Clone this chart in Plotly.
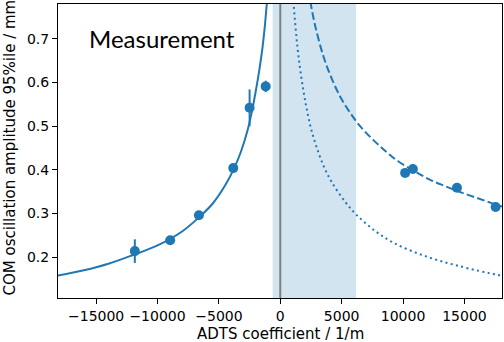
import plotly.graph_objects as go

# Measured points
meas_x = [-11850, -8970, -6630, -3830, -2500, -1190, 10170, 10800, 14390, 17540]
meas_y = [0.214, 0.239, 0.296, 0.404, 0.542, 0.591, 0.393, 0.402, 0.359, 0.315]
meas_err = [0.027, 0.008, 0.006, 0.009, 0.042, 0.013, 0.006, 0.006, 0.006, 0.006]

# Solid fit curve (negative side)
fit_neg_x = [-18300, -16000, -14000, -12000, -10000, -8000, -6600, -5500, -4500,
             -3800, -3200, -2700, -2300, -2000, -1700, -1450, -1250, -1100, -1000]
fit_neg_y = [0.157, 0.170, 0.185, 0.205, 0.227, 0.259, 0.292, 0.323, 0.364,
             0.401, 0.442, 0.487, 0.535, 0.580, 0.630, 0.680, 0.732, 0.780, 0.817]

# Dashed fit curve (positive side)
fit_pos_x = [2300, 2480, 2830, 3510, 4190, 4870, 5630, 6500, 7590, 8680, 9630,
             11000, 12210, 13500, 14660, 16000, 17100, 18200]
fit_pos_y = [0.81, 0.780, 0.731, 0.660, 0.609, 0.568, 0.533, 0.500, 0.468, 0.440, 0.419,
             0.396, 0.377, 0.362, 0.349, 0.336, 0.325, 0.315]

# Dotted curve (positive side)
dot_x = [1000, 1200, 1390, 1610, 1880, 2150, 2480, 2910, 3510, 4190, 5280, 6175,
         7590, 9220, 11660, 14390, 17650, 18200]
dot_y = [0.81, 0.740, 0.682, 0.632, 0.582, 0.540, 0.497, 0.456, 0.410, 0.372, 0.327, 0.298,
         0.263, 0.233, 0.204, 0.181, 0.160, 0.158]

# Shaded band and reference line
band_x = [-620, 6175]
vline_x = 0

x_ticks = [-15000, -10000, -5000, 0, 5000, 10000, 15000]
x_ticklabels = ["\u221215000", "\u221210000", "\u22125000", "0", "5000", "10000", "15000"]
y_ticks = [0.2, 0.3, 0.4, 0.5, 0.6, 0.7]
y_ticklabels = ["0.2", "0.3", "0.4", "0.5", "0.6", "0.7"]

C = "#1f77b4"
FONT = "DejaVu Sans"

fig = go.Figure()
fig.add_trace(go.Scatter(x=fit_neg_x, y=fit_neg_y, mode="lines", line=dict(color=C, width=2, shape="spline"),
                         hoverinfo="skip", showlegend=False))
fig.add_trace(go.Scatter(x=fit_pos_x, y=fit_pos_y, mode="lines",
                         line=dict(color=C, width=2, shape="spline", dash="7.7px,3.3px"),
                         hoverinfo="skip", showlegend=False))
fig.add_trace(go.Scatter(x=dot_x, y=dot_y, mode="lines",
                         line=dict(color=C, width=2, shape="spline", dash="2px,3.4px"),
                         hoverinfo="skip", showlegend=False))
fig.add_trace(go.Scatter(x=meas_x, y=meas_y, mode="markers",
                         marker=dict(color=C, size=10),
                         error_y=dict(type="data", array=meas_err, visible=True, color=C, thickness=2, width=0),
                         showlegend=False, cliponaxis=False))

fig.add_shape(type="rect", xref="x", yref="paper", x0=band_x[0], x1=band_x[1], y0=0, y1=1,
              fillcolor="rgba(31,119,180,0.2)", line=dict(width=0), layer="below")
fig.add_shape(type="line", xref="x", yref="paper", x0=vline_x, x1=vline_x, y0=0, y1=1,
              line=dict(color="gray", width=2), layer="below")

fig.add_annotation(text="Measurement", xref="paper", yref="paper", x=0.065, y=0.882,
                   xanchor="left", yanchor="middle", showarrow=False,
                   font=dict(family="Lato", size=24, color="black"))
fig.add_annotation(text="COM oscillation amplitude 95%ile / mm", xref="paper", yref="paper",
                   x=-0.108, y=0.512, xanchor="center", yanchor="middle", textangle=-90,
                   showarrow=False, font=dict(family=FONT, size=15, color="black"))
fig.add_annotation(text="ADTS coefficient / 1/m", xref="paper", yref="paper",
                   x=0.5, y=-0.123, xanchor="center", yanchor="middle",
                   showarrow=False, font=dict(family=FONT, size=15, color="black"))

axis_common = dict(showgrid=False, zeroline=False, showline=True, mirror=True, linecolor="black",
                   linewidth=1, ticks="outside", ticklen=5, tickwidth=1, tickcolor="black",
                   tickfont=dict(family=FONT, size=14, color="black"))
fig.update_xaxes(range=[-18107, 18059], tickmode="array", tickvals=x_ticks, ticktext=x_ticklabels, **axis_common)
fig.update_yaxes(range=[0.1067, 0.7796], tickmode="array", tickvals=y_ticks, ticktext=y_ticklabels, **axis_common)

fig.update_layout(width=504, height=342, margin=dict(l=58, r=2, t=4, b=44),
                  plot_bgcolor="white", paper_bgcolor="white", font=dict(family=FONT))

fig.write_html("out.html")
